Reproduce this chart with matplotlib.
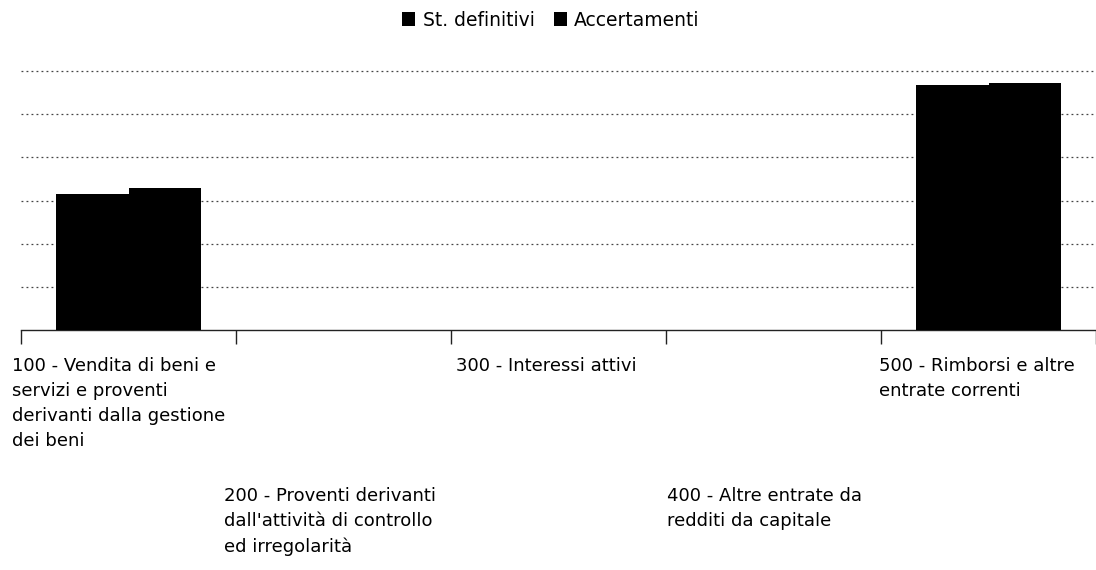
import matplotlib
matplotlib.use("Agg")
import matplotlib.pyplot as plt
import numpy as np
from matplotlib.patches import Patch

categories = [
    "100 - Vendita di beni e\nservizi e proventi\nderivanti dalla gestione\ndei beni",
    "200 - Proventi derivanti\ndall'attività di controllo\ned irregolarità",
    "300 - Interessi attivi",
    "400 - Altre entrate da\nredditi da capitale",
    "500 - Rimborsi e altre\nentrate correnti",
]
st_definitivi = [3.15, 0.0, 0.0, 0.0, 5.68]
accertamenti = [3.29, 0.0, 0.0, 0.0, 5.72]
series_names = ["St. definitivi", "Accertamenti"]

W, H = 1096, 570
fig = plt.figure(figsize=(W / 100, H / 100), dpi=100)
plt.rcParams['font.family'] = ['DejaVu Sans']

left_px, right_px, base_px, top_px = 21, 1096, 330, 71
ax = fig.add_axes([left_px / W, 1 - base_px / H, (right_px - left_px) / W, (base_px - top_px) / H])

x = np.arange(len(categories))
bw = 0.335
ax.bar(x - bw / 2, st_definitivi, width=bw, color="black", edgecolor="none", zorder=3)
ax.bar(x + bw / 2, accertamenti, width=bw, color="black", edgecolor="none", zorder=3)

ax.set_xlim(-0.5, len(categories) - 0.5)
ax.set_ylim(0, 6)
for g in range(1, 7):
    ax.axhline(g, color="#444444", lw=0.9, ls=(0, (1.5, 2.5)), zorder=1, clip_on=False)

for s in ["top", "right", "left"]:
    ax.spines[s].set_visible(False)
ax.spines["bottom"].set_color("#222222")
ax.spines["bottom"].set_linewidth(1.0)
ax.set_yticks([])
ax.set_xticks(np.arange(len(categories) + 1) - 0.5)
ax.set_xticklabels([])
ax.tick_params(axis="x", direction="out", length=10, width=1, color="#222222")

# category labels (staggered)
offsets_px = [-9, -12, 5, 1, -2]
tops_px = [357, 487, 357, 487, 357]
cat_w_px = (right_px - left_px) / len(categories)
for i, lab in enumerate(categories):
    px = left_px + i * cat_w_px + offsets_px[i]
    fig.text(px / W, 1 - tops_px[i] / H, lab, ha="left", va="top",
             fontsize=13, color="black", linespacing=1.5)

handles = [Patch(facecolor="black", edgecolor="none"), Patch(facecolor="black", edgecolor="none")]
fig.legend(handles, series_names, loc="center", bbox_to_anchor=(551 / W, 1 - 20 / H),
           ncol=2, frameon=False, fontsize=13.5, handlelength=0.7, handleheight=0.8,
           handletextpad=0.4, columnspacing=1.0)

fig.savefig("out.png", dpi=100)
